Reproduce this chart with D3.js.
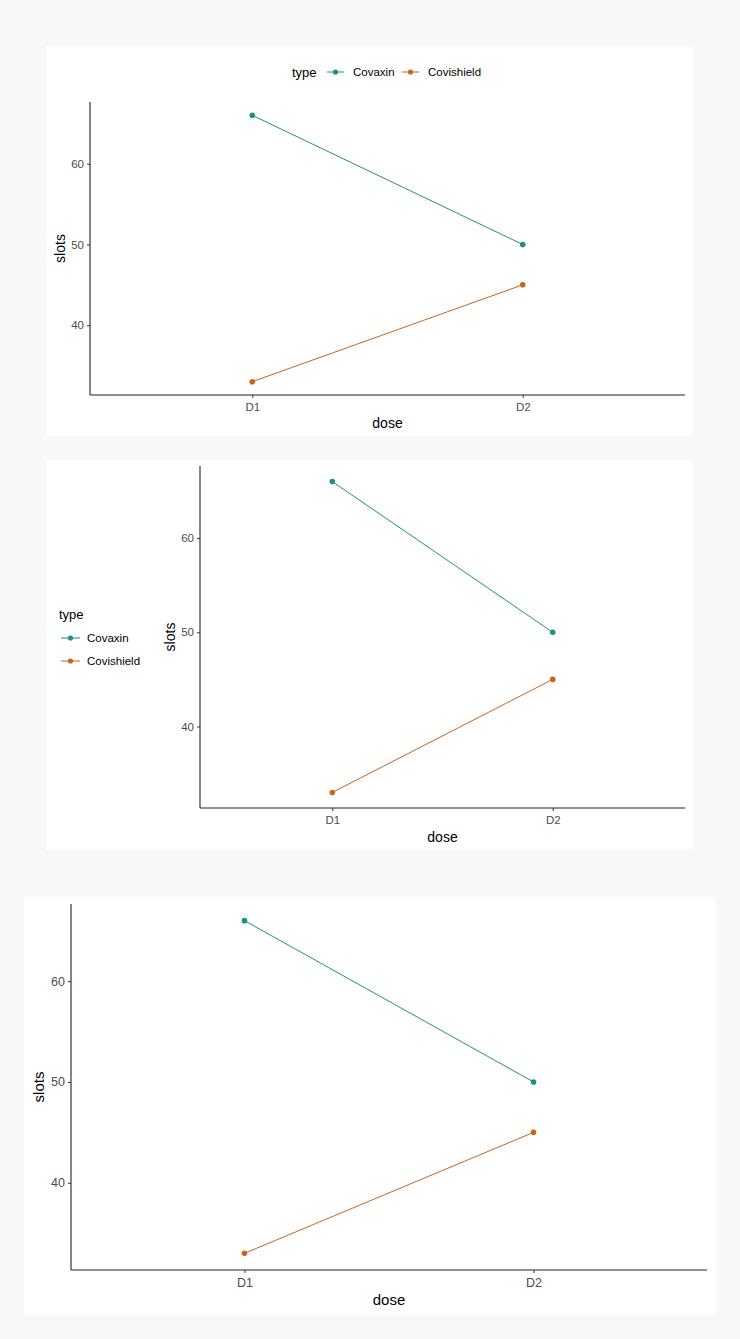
<!DOCTYPE html>
<html>
<head>
<meta charset="utf-8">
<script src="https://cdn.jsdelivr.net/npm/d3@7"></script>
<style>
  html, body { margin: 0; padding: 0; background: #f8f8f8; }
  svg { display: block; }
  text { font-family: "Liberation Sans", Arial, sans-serif; }
</style>
</head>
<body>
<svg id="chart" width="740" height="1339"></svg>
<script>
// ---- data ----
const doses = ["D1", "D2"];
const types = ["Covaxin", "Covishield"];
const covaxinSlots = [66, 50];
const covishieldSlots = [33, 45];
const yTicks = [40, 50, 60];
const xTitle = "dose";
const yTitle = "slots";
const legendTitle = "type";
const colors = ["#22907a", "#c8651c"];

const seriesValues = [covaxinSlots, covishieldSlots];
const series = types.map((t, i) => ({
  name: t, color: colors[i],
  points: doses.map((d, j) => ({ dose: d, slots: seriesValues[i][j] }))
}));

const svg = d3.select("#chart");
svg.append("rect").attr("width", 740).attr("height", 1339).attr("fill", "#f8f8f8");

function drawPanel(o) {
  const g = svg.append("g");
  g.append("rect").attr("x", o.bx).attr("y", o.by).attr("width", o.bw).attr("height", o.bh).attr("fill", "#fff");

  // discrete x with ggplot expansion 0.6
  const x = d3.scaleLinear().domain([0.4, 2.6]).range([o.x0, o.x1]);
  const xPos = d => x(doses.indexOf(d) + 1);
  const all = seriesValues.flat();
  const lo = d3.min(all), hi = d3.max(all), pad = (hi - lo) * 0.05;
  const y = d3.scaleLinear().domain([lo - pad, hi + pad]).range([o.y1, o.y0]);

  // axes
  const yAxis = d3.axisLeft(y).tickValues(yTicks).tickSize(3).tickPadding(3);
  const ya = g.append("g").attr("transform", `translate(${o.x0},0)`).call(yAxis);
  const xAxis = d3.axisBottom(x).tickValues(doses.map((d, i) => i + 1)).tickFormat((d) => doses[d - 1]).tickSize(3).tickPadding(5);
  const xa = g.append("g").attr("transform", `translate(0,${o.y1})`).call(xAxis);
  [ya, xa].forEach(a => {
    a.select(".domain").attr("stroke", "#222").attr("stroke-width", 1.1);
    a.selectAll(".tick line").attr("stroke", "#333");
    a.selectAll(".tick text").attr("fill", "#4d4d4d").style("font-size", o.tickFs + "px");
  });
  ya.select(".domain").attr("d", `M0,${o.y0}V${o.y1}`);
  xa.select(".domain").attr("d", `M${o.x0},0H${o.x1}`);

  // titles
  g.append("text").attr("x", (o.x0 + o.x1) / 2).attr("y", o.xTitleY).attr("text-anchor", "middle")
    .style("font-size", o.titleFs + "px").attr("fill", "#000").text(xTitle);
  g.append("text").attr("transform", `translate(${o.yTitleX},${(o.y0 + o.y1) / 2}) rotate(-90)`)
    .attr("text-anchor", "middle").style("font-size", o.titleFs + "px").attr("fill", "#000").text(yTitle);

  // lines & points
  const line = d3.line().x(d => xPos(d.dose)).y(d => y(d.slots));
  series.forEach(s => {
    g.append("path").datum(s.points).attr("d", line).attr("fill", "none")
      .attr("stroke", s.color).attr("stroke-width", 1);
    g.selectAll(null).data(s.points).enter().append("circle")
      .attr("cx", d => xPos(d.dose)).attr("cy", d => y(d.slots)).attr("r", 2.8).attr("fill", s.color);
  });

  // legend
  if (o.legend === "top") {
    const lg = g.append("g");
    lg.append("text").attr("x", o.lx).attr("y", o.ly + 5).style("font-size", "13px").attr("fill", "#000").text(legendTitle);
    const offsets = [o.lx + 35, o.lx + 110];
    series.forEach((s, i) => {
      const kx = offsets[i];
      lg.append("line").attr("x1", kx).attr("x2", kx + 17).attr("y1", o.ly).attr("y2", o.ly).attr("stroke", s.color).attr("stroke-width", 1);
      lg.append("circle").attr("cx", kx + 8.5).attr("cy", o.ly).attr("r", 2.6).attr("fill", s.color);
      lg.append("text").attr("x", kx + 26).attr("y", o.ly + 4).style("font-size", "11.5px").attr("fill", "#000").text(s.name);
    });
  } else if (o.legend === "left") {
    const lg = g.append("g");
    lg.append("text").attr("x", o.lx).attr("y", o.ly + 5).style("font-size", "13px").attr("fill", "#000").text(legendTitle);
    series.forEach((s, i) => {
      const ky = o.ly + 24 + i * 23;
      lg.append("line").attr("x1", o.lx + 2).attr("x2", o.lx + 21).attr("y1", ky).attr("y2", ky).attr("stroke", s.color).attr("stroke-width", 1);
      lg.append("circle").attr("cx", o.lx + 11.5).attr("cy", ky).attr("r", 2.6).attr("fill", s.color);
      lg.append("text").attr("x", o.lx + 28).attr("y", ky + 4).style("font-size", "11.5px").attr("fill", "#000").text(s.name);
    });
  }
}

drawPanel({ bx: 46, by: 46, bw: 647, bh: 390, x0: 90, x1: 685, y0: 102, y1: 395,
  tickFs: 11.5, titleFs: 14, xTitleY: 428, yTitleX: 65, legend: "top", lx: 292, ly: 72 });
drawPanel({ bx: 46, by: 460, bw: 647, bh: 390, x0: 200, x1: 685, y0: 466, y1: 808,
  tickFs: 11.5, titleFs: 14, xTitleY: 842, yTitleX: 175, legend: "left", lx: 59, ly: 614 });
drawPanel({ bx: 24, by: 897, bw: 692, bh: 418, x0: 71, x1: 707, y0: 904, y1: 1270,
  tickFs: 12.5, titleFs: 15, xTitleY: 1305, yTitleX: 44, legend: "none" });
</script>
</body>
</html>
